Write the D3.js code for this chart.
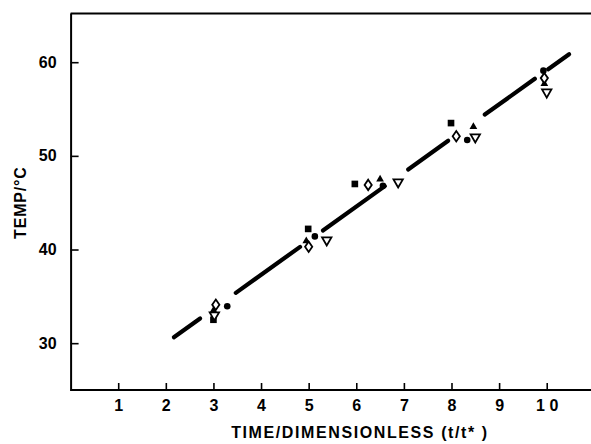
<!DOCTYPE html>
<html><head><meta charset="utf-8">
<script src="https://cdn.jsdelivr.net/npm/d3@7"></script>
<style>
html,body{margin:0;padding:0;background:#fff;}
svg{display:block;}
text{font-family:"Liberation Sans",Arial,sans-serif;font-weight:bold;fill:#000;}
</style></head>
<body>
<svg id="chart" width="591" height="444"></svg>
<script>
// ---- data ----
const xTicks = [1,2,3,4,5,6,7,8,9,10];
const xTickLabels = ["1","2","3","4","5","6","7","8","9","1 0"];
const yTicks = [30,40,50,60];
const yTickLabels = ["30","40","50","60"];
const xLabel = "TIME/DIMENSIONLESS (t/t* )";
const yLabel = "TEMP/°C";

const squareT = [3.0, 4.99, 5.97, 7.99];
const squareY = [32.5, 42.2, 47.0, 53.5];
const diamondT = [3.05, 5.0, 6.25, 8.1, 9.95];
const diamondY = [34.1, 40.3, 46.9, 52.1, 58.3];
const triangleT = [3.0, 4.95, 6.5, 8.46, 9.95];
const triangleY = [33.5, 40.9, 47.5, 53.1, 57.7];
const invTriT = [3.02, 5.38, 6.88, 8.5, 10.0];
const invTriY = [33.0, 41.0, 47.2, 52.0, 56.8];
const circleT = [3.29, 5.13, 6.56, 8.33, 9.93];
const circleY = [33.95, 41.4, 46.8, 51.7, 59.1];

// fitted line: temp = intercept + slope * t, drawn as dash segments (t ranges)
const fitIntercept = 22.74;
const fitSlope = 3.64;
const fitSegments = [[2.17,2.72],[3.47,4.82],[5.30,6.60],[7.09,7.93],[8.70,9.75],[10.03,10.47]];

// ---- drawing ----
const svg = d3.select("#chart");
const x = d3.scaleLinear().domain([0, 10.93]).range([70.6, 591]);
const y = d3.scaleLinear().domain([25, 65.2]).range([390, 13.5]);
const FONT = "Liberation Sans, Arial, sans-serif";

// frame
const frame = svg.append("g").attr("stroke","#000").attr("stroke-width",2).attr("fill","none");
frame.append("line").attr("x1",x(0)+0.5).attr("x2",x(0)+0.5).attr("y1",y(65.2)).attr("y2",y(25)+1);
frame.append("line").attr("x1",x(0)).attr("x2",591).attr("y1",y(65.2)).attr("y2",y(65.2));

// axes
const xAxis = d3.axisBottom(x).tickValues(xTicks).tickSizeInner(-7).tickSizeOuter(0)
  .tickPadding(10).tickFormat((d,i)=>xTickLabels[i]);
const gx = svg.append("g").attr("transform",`translate(0,${y(25)})`).call(xAxis);
gx.select(".domain").attr("stroke-width",2).attr("d",`M${x(0)},0H591`);
gx.selectAll(".tick line").attr("stroke-width",1.6);
gx.selectAll("text").attr("font-size",16).attr("font-family",FONT).attr("font-weight","bold").attr("dy","0.71em");

const yAxis = d3.axisLeft(y).tickValues(yTicks).tickSizeInner(-8).tickSizeOuter(0)
  .tickPadding(14).tickFormat((d,i)=>yTickLabels[i]);
const gy = svg.append("g").attr("transform",`translate(${x(0)},0)`).call(yAxis);
gy.select(".domain").remove();
gy.selectAll(".tick line").attr("stroke-width",1.6);
gy.selectAll("text").attr("font-size",16).attr("font-family",FONT).attr("font-weight","bold");

// axis titles
svg.append("text").attr("x",360).attr("y",438).attr("text-anchor","middle")
  .attr("font-size",16).attr("letter-spacing",1.6).text(xLabel);
svg.append("text").attr("transform",`translate(26,${y(45)}) rotate(-90)`).attr("text-anchor","middle")
  .attr("font-size",16).attr("letter-spacing",0.8).text(yLabel);

// fitted dashed line
svg.append("g").selectAll("line").data(fitSegments).join("line")
  .attr("x1",d=>x(d[0])).attr("y1",d=>y(fitIntercept+fitSlope*d[0]))
  .attr("x2",d=>x(d[1])).attr("y2",d=>y(fitIntercept+fitSlope*d[1]))
  .attr("stroke","#000").attr("stroke-width",4.2).attr("stroke-linecap","round");

// markers
function pts(T,Y){return T.map((t,i)=>({t:t,v:Y[i]}));}
const mk = svg.append("g");
mk.selectAll(".sq").data(pts(squareT,squareY)).join("path")
  .attr("transform",d=>`translate(${x(d.t)},${y(d.v)})`)
  .attr("d",d3.symbol(d3.symbolSquare,44)).attr("fill","#000");
mk.selectAll(".tri").data(pts(triangleT,triangleY)).join("path")
  .attr("transform",d=>`translate(${x(d.t)},${y(d.v)})`)
  .attr("d",d3.symbol(d3.symbolTriangle,26)).attr("fill","#000");
mk.selectAll(".ci").data(pts(circleT,circleY)).join("circle")
  .attr("cx",d=>x(d.t)).attr("cy",d=>y(d.v)).attr("r",3.3).attr("fill","#000");
mk.selectAll(".dia").data(pts(diamondT,diamondY)).join("path")
  .attr("transform",d=>`translate(${x(d.t)},${y(d.v)})`)
  .attr("d","M0,-5.2L3.6,0L0,5.2L-3.6,0Z").attr("fill","#fff").attr("stroke","#000").attr("stroke-width",1.8);
mk.selectAll(".inv").data(pts(invTriT,invTriY)).join("path")
  .attr("transform",d=>`translate(${x(d.t)},${y(d.v)}) rotate(180)`)
  .attr("d",d3.symbol(d3.symbolTriangle,38)).attr("fill","#fff").attr("stroke","#000").attr("stroke-width",1.8);
</script>
</body></html>
